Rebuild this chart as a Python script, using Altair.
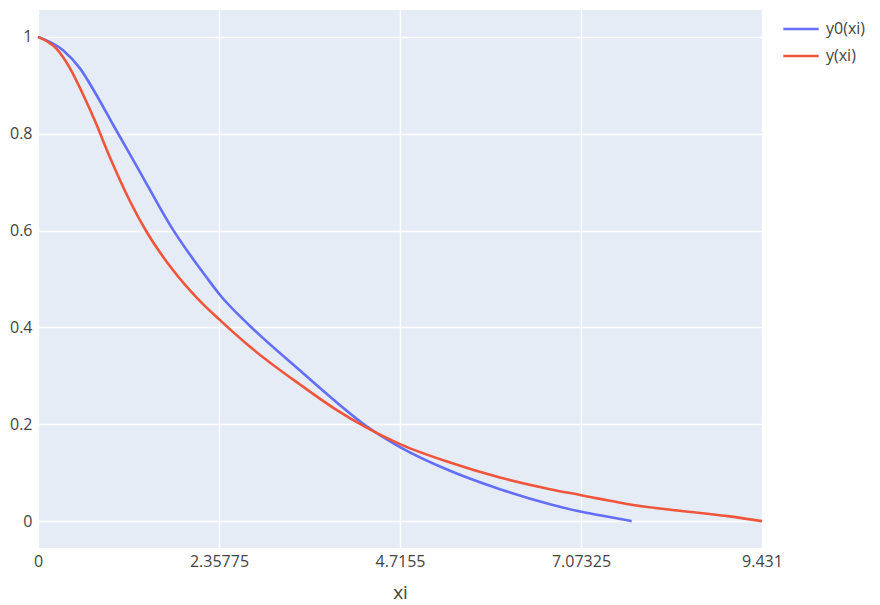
import altair as alt
import pandas as pd

# Series y0(xi)
xi0 = [0, 0.33, 0.547, 0.765, 0.98, 1.307, 1.741, 2.197, 2.371, 2.762, 3.413,
       3.847, 4.28, 4.715, 5.367, 6.018, 6.67, 7.06, 7.32, 7.733]
y0 = [1.0, 0.972, 0.935, 0.879, 0.818, 0.727, 0.606, 0.503, 0.467, 0.403, 0.311,
      0.251, 0.196, 0.153, 0.104, 0.066, 0.035, 0.02, 0.012, 0.0]

# Series y(xi)
xi1 = [0, 0.243, 0.417, 0.59, 0.765, 0.895, 1.003, 1.2, 1.416, 1.75, 2.088, 2.371,
       2.762, 3.413, 3.847, 4.28, 4.715, 5.367, 6.018, 6.67, 7.06, 7.32, 7.71, 8.36,
       9.01, 9.431]
y1 = [1.0, 0.975, 0.935, 0.88, 0.818, 0.767, 0.727, 0.66, 0.597, 0.52, 0.458, 0.415,
      0.36, 0.282, 0.234, 0.193, 0.159, 0.121, 0.09, 0.066, 0.054, 0.046, 0.0345,
      0.0215, 0.0098, 0.0]

series_names = ["y0(xi)", "y(xi)"]
series_colors = ["#636efa", "#EF553B"]
x_ticks = [0, 2.35775, 4.7155, 7.07325, 9.431]
y_ticks = [0, 0.2, 0.4, 0.6, 0.8, 1.0]

df = pd.concat([
    pd.DataFrame({"xi": xi0, "value": y0, "series": series_names[0], "order": range(len(xi0))}),
    pd.DataFrame({"xi": xi1, "value": y1, "series": series_names[1], "order": range(len(xi1))}),
])

FONT = "Open Sans"
TXT = "#444444"

chart = alt.Chart(df).mark_line(strokeWidth=2.6, interpolate="monotone").encode(
    x=alt.X("xi:Q", title="xi",
            scale=alt.Scale(domain=[0, 9.431], nice=False, zero=False),
            axis=alt.Axis(values=x_ticks, format=".6~g", grid=True, gridColor="white",
                          gridWidth=1.4, domain=False, ticks=False, labelPadding=5,
                          labelFont=FONT, labelFontSize=16, labelColor=TXT,
                          titleFont=FONT, titleFontSize=19, titleColor=TXT,
                          titleFontWeight="normal", titlePadding=14,
                          labelFlush=False)),
    y=alt.Y("value:Q", title=None,
            scale=alt.Scale(domain=[-0.0555, 1.0555], nice=False, zero=False),
            axis=alt.Axis(values=y_ticks, format="~g", grid=True, gridColor="white",
                          gridWidth=1.4, domain=False, ticks=False, labelPadding=6,
                          labelFont=FONT, labelFontSize=16, labelColor=TXT,
                          labelFlush=False)),
    color=alt.Color("series:N",
                    scale=alt.Scale(domain=series_names, range=series_colors),
                    legend=alt.Legend(title=None, orient="none", legendX=744, legendY=0,
                                      symbolType="stroke", symbolSize=1250,
                                      symbolStrokeWidth=2.6, labelFont=FONT,
                                      labelFontSize=16, labelColor=TXT,
                                      rowPadding=-9, labelOffset=6)),
    order="order:Q",
).properties(
    width=724, height=538,
    padding={"left": 38, "top": 10, "right": 118, "bottom": 57},
    autosize=alt.AutoSizeParams(type="none"),
).configure_view(
    fill="#E5ECF6", strokeWidth=0
)

chart.save("out.html", embed_options={"renderer": "svg", "actions": False})
